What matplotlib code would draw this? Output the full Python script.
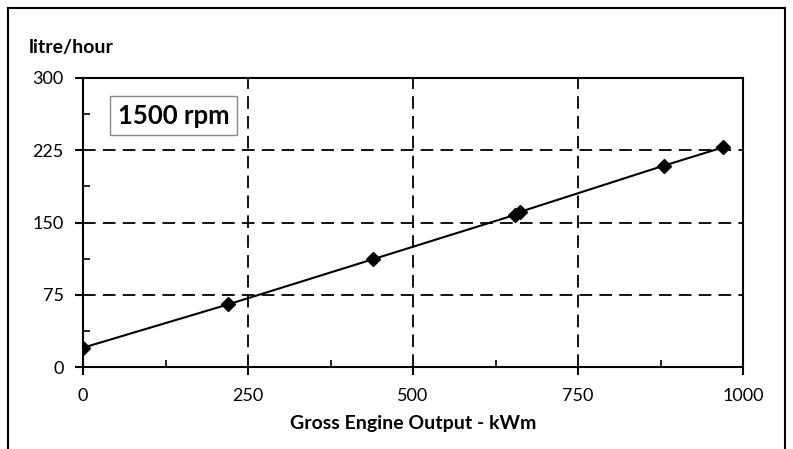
import matplotlib.pyplot as plt
from matplotlib.lines import Line2D
from matplotlib.ticker import MultipleLocator

plt.rcParams.update({"font.family": "Lato", "font.size": 13})

output_kwm = [0, 220, 440, 655, 662, 880, 970]
fuel_lph = [20, 65, 112, 158, 161, 209, 228]
x_ticks = [0, 250, 500, 750, 1000]
y_ticks = [0, 75, 150, 225, 300]

W, H = 793, 449
fig = plt.figure(figsize=(W / 100, H / 100), dpi=100)
ax = fig.add_axes([83 / W, 1 - 367 / H, (743 - 83) / W, (367 - 78) / H])

ax.plot(output_kwm, fuel_lph, color="black", lw=1.5, marker="D", ms=7,
        mfc="black", mec="black", zorder=3)

ax.set_xlim(0, 1000)
ax.set_ylim(0, 300)
ax.set_xticks(x_ticks)
ax.set_yticks(y_ticks)
ax.xaxis.set_minor_locator(MultipleLocator(125))
ax.yaxis.set_minor_locator(MultipleLocator(37.5))
ax.tick_params(which="major", direction="out", length=6, width=1.5)
ax.tick_params(which="minor", direction="in", length=5, width=1.2)
ax.tick_params(axis="x", which="major", pad=9)
ax.tick_params(axis="y", which="major", pad=8)
for s in ax.spines.values():
    s.set_linewidth(1.5)

ax.grid(which="major", color="black", linestyle=(0, (7, 4)), linewidth=1.3)
ax.set_axisbelow(True)

ax.set_xlabel("Gross Engine Output - kWm", fontweight="bold", fontsize=14, labelpad=8)
fig.text(29 / W, 1 - 48 / H, "litre/hour", fontweight="bold", fontsize=14, va="center")

ax.text(137, 261, "1500 rpm", fontsize=18.5, fontweight="bold",
        ha="center", va="center",
        bbox=dict(boxstyle="square,pad=0.3", fc="white", ec="#8a8a8a", lw=1))

# outer frame (bottom edge falls outside the image)
for xs, ys in [([8, 8], [449, 8]), ([8, 785], [8, 8]), ([785, 785], [8, 449])]:
    fig.add_artist(Line2D([x / W for x in xs], [1 - y / H for y in ys],
                          color="black", lw=1.5))

fig.savefig("out.png", dpi=100, facecolor="white")
